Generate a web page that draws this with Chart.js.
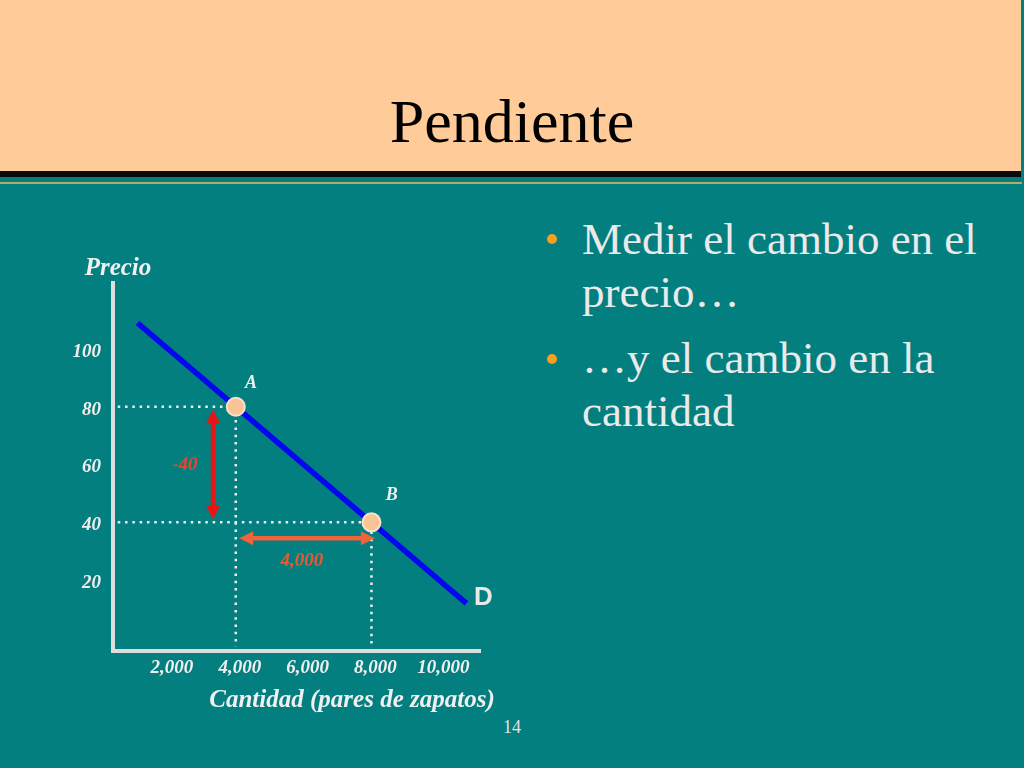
<!DOCTYPE html>
<html><head><meta charset="utf-8">
<script src="https://cdn.jsdelivr.net/npm/chart.js@4.4.1/dist/chart.umd.min.js"></script>
<style>
html,body{margin:0;padding:0;}
body{width:1024px;height:768px;overflow:hidden;background:#047f80;position:relative;font-family:"Liberation Serif","Times New Roman",serif;}
#hdr{position:absolute;left:0;top:0;width:1021px;height:171px;background:#ffcc99;}
#hdrline{position:absolute;left:0;top:171px;width:1021px;height:6px;background:#0b0b0b;}
#gold{position:absolute;left:0;top:182px;width:1022px;height:2px;background:#b9ab5e;}
#title{position:absolute;left:0;width:1024px;top:90px;text-align:center;font-size:62px;line-height:62px;color:#000;}
#bul{position:absolute;left:582px;top:213px;width:430px;font-size:45px;line-height:53px;color:#eaeaea;}
#bul p{margin:0 0 13px 0;}
.dot{position:absolute;width:10px;height:10px;border-radius:50%;background:#f7a01f;left:546.5px;}
#pg{position:absolute;left:0;width:1024px;text-align:center;top:718px;font-size:18px;line-height:18px;color:#e2e2e2;}
#wrap{position:absolute;left:0;top:240px;width:560px;height:500px;}
</style></head>
<body>
<div id="hdr"></div><div id="hdrline"></div><div id="gold"></div>
<div id="title">Pendiente</div>
<div class="dot" style="top:234px"></div>
<div class="dot" style="top:354px"></div>
<div id="bul"><p>Medir el cambio en el precio…</p><p>…y el cambio en la cantidad</p></div>
<div id="pg">14</div>
<div id="wrap"><canvas id="c" width="560" height="500"></canvas></div>
<script>
// ---- data ----
const xTicks = [2000, 4000, 6000, 8000, 10000];
const xTickLabels = ['2,000', '4,000', '6,000', '8,000', '10,000'];
const yTicks = [20, 40, 60, 80, 100];
const yTickLabels = ['20', '40', '60', '80', '100'];
const demandQ = [1100, 10800];
const demandP = [109, 12];
const pointNames = ['A', 'B'];
const pointQ = [4000, 8000];
const pointP = [80, 40];
const priceArrowQ = [3330, 3330];
const priceArrowP = [79, 41];
const qtyArrowQ = [4100, 8100];
const qtyArrowP = [34.5, 34.5];
const priceChangeLabel = '-40';
const qtyChangeLabel = '4,000';
const curveName = 'D';
const yTitle = 'Precio';
const xTitle = 'Cantidad (pares de zapatos)';

const serif = '"Liberation Serif","Times New Roman",serif';
const pts = (qs, ps) => qs.map((q, i) => ({x: q, y: ps[i]}));

const guideA = [{x: 520, y: pointP[0]}, {x: pointQ[0], y: pointP[0]}, {x: pointQ[0], y: -3}];
const guideB = [{x: 520, y: pointP[1]}, {x: pointQ[1], y: pointP[1]}, {x: pointQ[1], y: -3}];

const overlay = {
  id: 'overlay',
  afterDatasetsDraw(chart) {
    const {ctx, scales: {x, y}, chartArea} = chart;
    function arrow(qs, ps, color, w, hl, hw) {
      const x1 = x.getPixelForValue(qs[0]), y1 = y.getPixelForValue(ps[0]);
      const x2 = x.getPixelForValue(qs[1]), y2 = y.getPixelForValue(ps[1]);
      const L = Math.hypot(x2 - x1, y2 - y1), dx = (x2 - x1) / L, dy = (y2 - y1) / L;
      ctx.save();
      ctx.strokeStyle = color; ctx.fillStyle = color; ctx.lineWidth = w;
      ctx.beginPath();
      ctx.moveTo(x1 + dx * hl * 0.7, y1 + dy * hl * 0.7);
      ctx.lineTo(x2 - dx * hl * 0.7, y2 - dy * hl * 0.7);
      ctx.stroke();
      [[x1, y1, 1], [x2, y2, -1]].forEach(([px, py, s]) => {
        const bx = px + s * dx * hl, by = py + s * dy * hl;
        ctx.beginPath();
        ctx.moveTo(px, py);
        ctx.lineTo(bx - dy * hw, by + dx * hw);
        ctx.lineTo(bx + dy * hw, by - dx * hw);
        ctx.closePath();
        ctx.fill();
      });
      ctx.restore();
    }
    arrow(priceArrowQ, priceArrowP, '#e81515', 4.5, 14, 7);
    arrow(qtyArrowQ, qtyArrowP, '#f0643c', 4.5, 14, 7);

    function label(text, q, p, color, font) {
      ctx.save();
      ctx.fillStyle = color; ctx.font = font;
      ctx.textAlign = 'center'; ctx.textBaseline = 'middle';
      ctx.fillText(text, x.getPixelForValue(q), y.getPixelForValue(p));
      ctx.restore();
    }
    const lf = 'italic bold 18px ' + serif;
    label(pointNames[0], 4450, 88, '#f0f0f0', lf);
    label(pointNames[1], 8600, 49.3, '#f0f0f0', lf);
    label(priceChangeLabel, 2500, 59.7, '#e4472a', 'italic bold 19px ' + serif);
    label(qtyChangeLabel, 5950, 26.5, '#ea5a2e', 'italic bold 19px ' + serif);
    label(curveName, 11300, 13.8, '#e8e8e8', 'bold 26px "Liberation Sans", Arial, sans-serif');

    ctx.save();
    ctx.fillStyle = '#f0f0f0';
    ctx.font = 'italic bold 25px ' + serif;
    ctx.textAlign = 'center'; ctx.textBaseline = 'alphabetic';
    ctx.fillText(yTitle, chartArea.left + 5, chartArea.top - 8);
    ctx.fillText(xTitle, chartArea.left + 239, chartArea.bottom + 56);
    ctx.restore();
  }
};

const tickFont = {family: serif, size: 19, style: 'italic', weight: 'bold'};

new Chart(document.getElementById('c'), {
  type: 'line',
  data: {
    datasets: [
      {data: pts(pointQ, pointP), showLine: false, pointRadius: 9, pointBackgroundColor: '#f9c596',
       pointBorderColor: '#f3e2cc', pointBorderWidth: 2, order: 0},
      {data: pts(demandQ, demandP), borderColor: '#0606f0', borderWidth: 5.5, pointRadius: 0, order: 1},
      {data: guideA, borderColor: '#eeeeee', borderWidth: 2.5, borderDash: [2.5, 4.8], pointRadius: 0, order: 2},
      {data: guideB, borderColor: '#eeeeee', borderWidth: 2.5, borderDash: [2.5, 4.8], pointRadius: 0, order: 2}
    ]
  },
  options: {
    responsive: false,
    animation: false,
    layout: {padding: {top: 43, right: 80, bottom: 0, left: 0}},
    plugins: {legend: {display: false}, tooltip: {enabled: false}},
    scales: {
      x: {
        type: 'linear', min: 380, max: 11200,
        grid: {display: false, drawTicks: false},
        border: {display: true, color: '#dedede', width: 4},
        afterBuildTicks: s => { s.ticks = xTicks.map(v => ({value: v})); },
        afterFit: s => { s.height = 89; },
        ticks: {color: '#f0f0f0', font: tickFont, padding: 6, labelOffset: 4, autoSkip: false,
                maxRotation: 0, minRotation: 0, callback: (v, i) => xTickLabels[i]}
      },
      y: {
        type: 'linear', min: -4.5, max: 122.8,
        grid: {display: false, drawTicks: false},
        border: {display: true, color: '#dedede', width: 4},
        afterBuildTicks: s => { s.ticks = yTicks.map(v => ({value: v})); },
        afterFit: s => { s.width = 113; },
        ticks: {color: '#f0f0f0', font: tickFont, padding: 12, labelOffset: 3, autoSkip: false,
                callback: (v, i) => yTickLabels[i]}
      }
    }
  },
  plugins: [overlay]
});
</script>
</body></html>
